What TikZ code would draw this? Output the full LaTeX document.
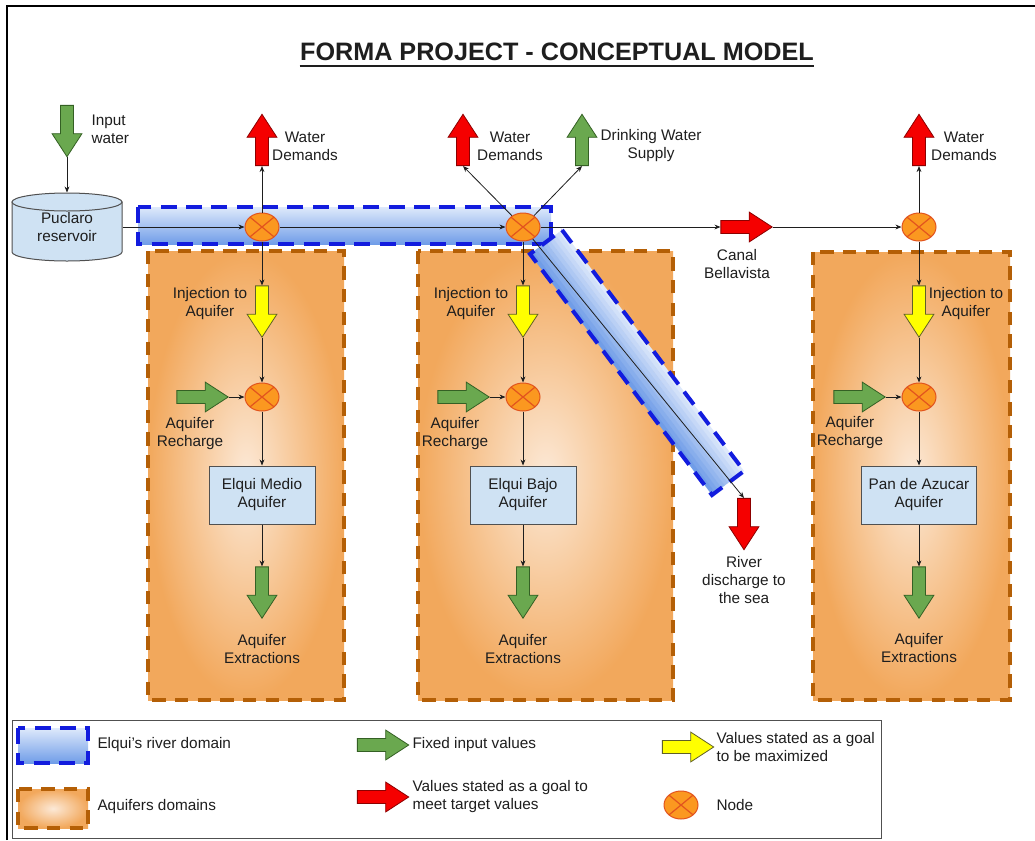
\documentclass[tikz,border=0pt]{standalone}
\usepackage{fontspec}
\setmainfont{Liberation Sans}
\usetikzlibrary{arrows.meta,shapes.geometric,shapes.arrows,calc}

\definecolor{riverLight}{RGB}{222,233,251}
\definecolor{riverDark}{RGB}{112,157,232}
\definecolor{riverEdge}{RGB}{18,28,222}
\definecolor{aqOuter}{RGB}{242,168,92}
\definecolor{aqInner}{RGB}{252,233,215}
\definecolor{aqEdge}{RGB}{180,95,6}
\definecolor{nodeFill}{RGB}{251,152,32}
\definecolor{nodeEdge}{RGB}{226,84,30}
\definecolor{boxFill}{RGB}{207,226,243}
\definecolor{boxEdge}{RGB}{80,80,80}
\definecolor{greenFill}{RGB}{106,168,79}
\definecolor{greenEdge}{RGB}{52,96,36}
\definecolor{redFill}{RGB}{245,0,0}
\definecolor{redEdge}{RGB}{140,0,0}
\definecolor{yellowFill}{RGB}{255,255,0}
\definecolor{yellowEdge}{RGB}{96,96,40}
\definecolor{txt}{RGB}{30,30,30}

\tikzset{every picture/.style={line width=0.75pt}}
\tikzset{
	lbl/.style={font=\fontsize{11.5pt}{13.5pt}\selectfont, text=txt, align=center, inner sep=0pt},
	blockarrow/.style={single arrow, draw, line width=0.6pt, inner xsep=0pt, inner ysep=4.6pt,
		single arrow head extend=6.3pt, single arrow tip angle=66, minimum height=38.5pt},
	fixedin/.style={blockarrow, fill=greenFill, draw=greenEdge},
	target/.style={blockarrow, fill=redFill, draw=redEdge},
	maxgoal/.style={blockarrow, fill=yellowFill, draw=yellowEdge},
	junction/.style={ellipse, draw=nodeEdge, fill=nodeFill, minimum width=25.5pt, minimum height=21pt, inner sep=0pt,
		path picture={\draw[nodeEdge, line width=0.9pt] (path picture bounding box.north west) -- (path picture bounding box.south east)
			(path picture bounding box.south west) -- (path picture bounding box.north east);}},
	aqbox/.style={rectangle, draw=boxEdge, fill=boxFill, minimum height=43.5pt, minimum width=79.5pt,
		font=\fontsize{11.5pt}{13.5pt}\selectfont, text=txt, align=center},
	conn/.style={draw=txt, line width=0.6pt, -{Stealth[length=4.5pt,width=3.6pt]}},
	riverdom/.style={draw=riverEdge, line width=3pt, dash pattern=on 12pt off 7pt},
	aqdom/.style={draw=aqEdge, line width=3pt, dash pattern=on 10pt off 7pt}
}

\begin{document}
\begin{tikzpicture}[x=0.75pt,y=0.75pt,yscale=-1,xscale=1]
	\fill[white] (0,0) rectangle (1035,840);
	\useasboundingbox (0,0) rectangle (1035,840);

	%Straight Lines: frame
	\draw[line width=2pt] (7,840) -- (7,6) -- (1035,6);

	% Text Node: title
	\node[font=\bfseries\fontsize{18.9pt}{22pt}\selectfont, text=txt, inner sep=0pt] (title) at (557,52) {FORMA PROJECT - CONCEPTUAL MODEL};
	\draw[line width=1.5pt, txt] ($(title.base west)+(0,5)$) -- ($(title.base east)+(0,5)$);

	%Shape: Rectangle - aquifers domains
	\shade[inner color=aqInner, outer color=aqOuter] (148,251) rectangle (344,700);
	\draw[aqdom] (148,251) rectangle (344,700);
	\shade[inner color=aqInner, outer color=aqOuter] (418,251) rectangle (673,700);
	\draw[aqdom] (418,251) rectangle (673,700);
	\shade[inner color=aqInner, outer color=aqOuter] (813,252) rectangle (1010,700);
	\draw[aqdom] (813,252) rectangle (1010,700);

	%Shape: Rectangle - river domain
	\shade[top color=riverLight, bottom color=riverDark] (138,207) rectangle (551,244);
	\draw[riverdom] (138,207) rectangle (551,244);

	%Shape: Rectangle - river domain to the sea
	\coordinate (rs) at (546,242);
	\coordinate (re) at (728,483);
	\foreach \i in {0,...,9}{
		\pgfmathsetmacro{\a}{20-4*\i}
		\pgfmathsetmacro{\b}{max(\a-4.4,-20)}
		\pgfmathtruncatemacro{\p}{100-round(100*\i/9)}
		\fill[riverLight!\p!riverDark] ($(rs)+(0.799*\a,-0.602*\a)$) -- ($(re)+(0.799*\a,-0.602*\a)$)
			-- ($(re)+(0.799*\b,-0.602*\b)$) -- ($(rs)+(0.799*\b,-0.602*\b)$) -- cycle;
	}
	\draw[riverdom] ($(rs)+(16,-12)$) -- ($(re)+(16,-12)$) -- ($(re)+(-16,12)$) -- ($(rs)+(-16,12)$) -- cycle;

	%Shape: Can - reservoir
	\draw[draw=boxEdge, fill=boxFill] (12,202) -- (12,252) arc[start angle=180, end angle=0, x radius=55, y radius=9] -- (122,202) -- cycle;
	\draw[draw=boxEdge, fill=boxFill] (67,202) ellipse [x radius=55, y radius=9];
	\node[lbl, rectangle, minimum width=82.5pt, minimum height=51pt] (res) at (67,227) {Puclaro\\reservoir};

	%Shape: Ellipse - nodes
	\node[junction] (n1) at (262,227) {};
	\node[junction] (n2) at (523,227) {};
	\node[junction] (n3) at (919,227) {};
	\node[junction] (m1) at (262,397) {};
	\node[junction] (m2) at (523,397) {};
	\node[junction] (m3) at (919,397) {};

	%Shape: Right Arrow
	\node[fixedin, rotate=-90] (inw) at (67,126) {};
	\node[target, rotate=90] (wd1) at (262,145) {};
	\node[target, rotate=90] (wd2) at (463,145) {};
	\node[fixedin, rotate=90] (dws) at (582,145) {};
	\node[target, rotate=90] (wd3) at (919,145) {};
	\node[target] (canal) at (741.5,227) {};
	\node[target, rotate=-90] (riv) at (744,519) {};
	\node[maxgoal, rotate=-90] (inj1) at (262,306.5) {};
	\node[maxgoal, rotate=-90] (inj2) at (523,306.5) {};
	\node[maxgoal, rotate=-90] (inj3) at (919,306.5) {};
	\node[fixedin] (rch1) at (197.5,397) {};
	\node[fixedin] (rch2) at (458.5,397) {};
	\node[fixedin] (rch3) at (854.5,397) {};
	\node[fixedin, rotate=-90] (ext1) at (262,587.5) {};
	\node[fixedin, rotate=-90] (ext2) at (523,587.5) {};
	\node[fixedin, rotate=-90] (ext3) at (919,587.5) {};

	%Shape: Rectangle - aquifers
	\node[aqbox] (aq1) at (262,495) {Elqui Medio\\Aquifer};
	\node[aqbox] (aq2) at (523,495) {Elqui Bajo\\Aquifer};
	\node[aqbox, minimum width=86pt] (aq3) at (919,495) {Pan de Azucar\\Aquifer};

	%Straight Lines
	\draw[conn] (inw.tip) -- (res.north);
	\draw[conn] (res) -- (n1);
	\draw[conn] (n1) -- (n2);
	\draw[conn] (n1) -- (wd1.tail);
	\draw[conn] (n2) -- (wd2.tail);
	\draw[conn] (n2) -- (dws.tail);
	\draw[conn] (n2) -- (canal.tail);
	\draw[conn] (canal.tip) -- (n3);
	\draw[conn] (n3) -- (wd3.tail);
	\draw[conn] (n2) -- (riv.tail);
	\draw[conn] (n1) -- (inj1.tail);
	\draw[conn] (n2) -- (inj2.tail);
	\draw[conn] (n3) -- (inj3.tail);
	\draw[conn] (inj1.tip) -- (m1);
	\draw[conn] (inj2.tip) -- (m2);
	\draw[conn] (inj3.tip) -- (m3);
	\draw[conn] (rch1.tip) -- (m1);
	\draw[conn] (rch2.tip) -- (m2);
	\draw[conn] (rch3.tip) -- (m3);
	\draw[conn] (m1) -- (aq1);
	\draw[conn] (m2) -- (aq2);
	\draw[conn] (m3) -- (aq3);
	\draw[conn] (aq1) -- (ext1.tail);
	\draw[conn] (aq2) -- (ext2.tail);
	\draw[conn] (aq3) -- (ext3.tail);

	% Text Node
	\node[lbl, anchor=west, align=left] (inwl) at (91,129) {Input\\water};
	\node[lbl] (wd1l) at (305,146) {Water\\Demands};
	\node[lbl] (wd2l) at (510,146) {Water\\Demands};
	\node[lbl] (dwsl) at (651,146) {Drinking Water\\Supply};
	\node[lbl] (wd3l) at (964,146) {Water\\Demands};
	\node[lbl] (canall) at (737,264) {Canal\\Bellavista};
	\node[lbl] (rivl) at (744,580) {River\\discharge to\\the sea};
	\node[lbl] (inj1l) at (210,304) {Injection to\\Aquifer};
	\node[lbl] (inj2l) at (471,304) {Injection to\\Aquifer};
	\node[lbl] (inj3l) at (966,304) {Injection to\\Aquifer};
	\node[lbl] (rch1l) at (190,434) {Aquifer\\Recharge};
	\node[lbl] (rch2l) at (455,434) {Aquifer\\Recharge};
	\node[lbl] (rch3l) at (850,433) {Aquifer\\Recharge};
	\node[lbl] (ext1l) at (262,649) {Aquifer\\Extractions};
	\node[lbl] (ext2l) at (523,649) {Aquifer\\Extractions};
	\node[lbl] (ext3l) at (919,648) {Aquifer\\Extractions};

	%Shape: Rectangle - legend
	\draw[draw=boxEdge] (12,720) rectangle (881,838);
	\shade[top color=riverLight, bottom color=riverDark] (18,728) rectangle (88,763);
	\draw[riverdom] (18,728) rectangle (88,763);
	\shade[inner color=aqInner, outer color=aqOuter] (18,789) rectangle (88,828);
	\draw[aqdom] (18,789) rectangle (88,828);
	\node[fixedin] (lgfix) at (378,745) {};
	\node[target] (lgtar) at (378,797) {};
	\node[maxgoal] (lgmax) at (683,747) {};
	\node[junction] (lgnode) at (681,805) {};

	% Text Node
	\node[lbl, anchor=west] (lgriv) at (97,745) {Elqui’s river domain};
	\node[lbl, anchor=west] (lgaq) at (97,807) {Aquifers domains};
	\node[lbl, anchor=west, align=left] (lgfixl) at (412,745) {Fixed input values};
	\node[lbl, anchor=west, align=left] (lgtarl) at (412,797) {Values stated as a goal to\\meet target values};
	\node[lbl, anchor=west, align=left] (lgmaxl) at (716,747) {Values stated as a goal\\to be maximized};
	\node[lbl, anchor=west, align=left] (lgnodel) at (716,805) {Node};

\end{tikzpicture}
\end{document}
